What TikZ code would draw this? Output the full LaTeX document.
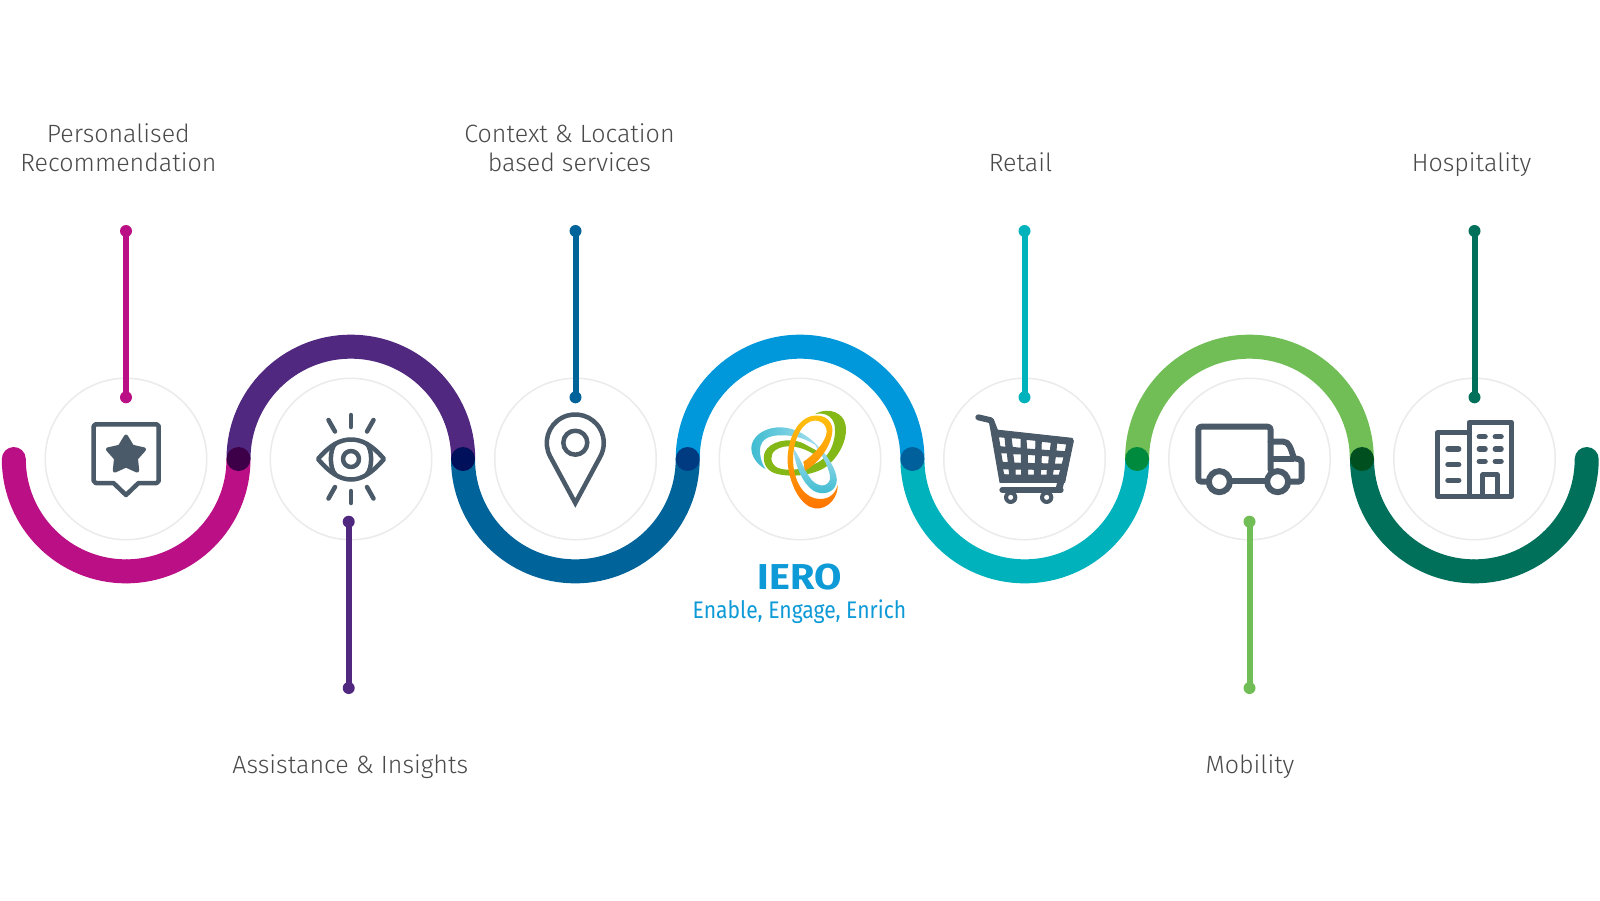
\documentclass[tikz,border=0pt]{standalone}
\usepackage{graphicx}
\usepackage{fontspec}
\setmainfont{Fira Sans Light}
\newfontfamily\regfont{Fira Sans}
\definecolor{cmag}{HTML}{BA0F85}
\definecolor{cpur}{HTML}{50287F}
\definecolor{cblu}{HTML}{00649B}
\definecolor{clbl}{HTML}{0098DA}
\definecolor{ctea}{HTML}{00B2BC}
\definecolor{cgrn}{HTML}{70BE55}
\definecolor{cdgr}{HTML}{00705A}
\definecolor{jone}{HTML}{3D0048}
\definecolor{jtwo}{HTML}{00105A}
\definecolor{jthr}{HTML}{003A80}
\definecolor{jfou}{HTML}{00609C}
\definecolor{jfiv}{HTML}{008A3E}
\definecolor{jsix}{HTML}{00501F}
\definecolor{icon}{HTML}{4B5A68}
\definecolor{ring}{HTML}{EBEBEB}
\definecolor{txt}{HTML}{4A4A4A}
\definecolor{ierob}{HTML}{0E9AD7}
\definecolor{lcya}{HTML}{3DBBD0}
\definecolor{lpal}{HTML}{A8E0F0}
\definecolor{lgrn}{HTML}{84B817}
\definecolor{lyel}{HTML}{FFC20E}
\definecolor{lorg}{HTML}{FF7300}
\tikzset{
  band/.style={line width=24pt,draw=#1},
  hub/.style={circle,draw=ring,line width=1.5pt,minimum size=161.5pt,inner sep=0pt,fill=white},
  joint/.style={circle,fill=#1,minimum size=24pt,inner sep=0pt},
  tipdot/.style={circle,fill=#1,minimum size=12pt,inner sep=0pt},
  stem/.style={line width=6pt,draw=#1},
  lab/.style={text=txt,font=\fontsize{25pt}{29pt}\selectfont,align=center,inner sep=0pt,anchor=base},
  ico/.style={draw=icon,line width=4.5pt,line cap=round,line join=round},
}
\begin{document}
\begin{tikzpicture}[x=1pt,y=-1pt]
\useasboundingbox (0,0) rectangle (1600,900);
\fill[white] (0,0) rectangle (1600,900);
% hubs
\node[hub] (h1) at (126,459) {};
\node[hub] (h2) at (351,459) {};
\node[hub] (h3) at (575.5,459) {};
\node[hub] (h4) at (800,459) {};
\node[hub] (h5) at (1024.5,459) {};
\node[hub] (h6) at (1249.5,459) {};
\node[hub] (h7) at (1474.5,459) {};
% bands
\draw[band=cmag,line cap=round] (13.8,459) arc[start angle=180,end angle=90,radius=112.35];
\draw[band=cmag] (126.15,571.35) arc[start angle=90,end angle=0,radius=112.35];
\draw[band=cpur] (238.5,459) arc[start angle=180,end angle=360,radius=112.35];
\draw[band=cblu] (463,459) arc[start angle=180,end angle=0,radius=112.35];
\draw[band=clbl] (687.7,459) arc[start angle=180,end angle=360,radius=112.35];
\draw[band=ctea] (912.4,459) arc[start angle=180,end angle=0,radius=112.35];
\draw[band=cgrn] (1137.1,459) arc[start angle=180,end angle=360,radius=112.35];
\draw[band=cdgr] (1362,459) arc[start angle=180,end angle=90,radius=112.35];
\draw[band=cdgr,line cap=round] (1474.35,571.35) arc[start angle=90,end angle=0,radius=112.35];
% joints
\node[joint=jone] (j1) at (238.5,459) {};
\node[joint=jtwo] (j2) at (463,459) {};
\node[joint=jthr] (j3) at (687.7,459) {};
\node[joint=jfou] (j4) at (912.4,459) {};
\node[joint=jfiv] (j5) at (1137.1,459) {};
\node[joint=jsix] (j6) at (1362,459) {};
% stems
\node[tipdot=cmag] (s1a) at (126,231) {};
\node[tipdot=cmag] (s1b) at (126,397.3) {};
\draw[stem=cmag] (s1a.center) -- (s1b.center);
\node[tipdot=cpur] (s2a) at (348.7,521.7) {};
\node[tipdot=cpur] (s2b) at (348.7,688) {};
\draw[stem=cpur] (s2a.center) -- (s2b.center);
\node[tipdot=cblu] (s3a) at (575.5,231) {};
\node[tipdot=cblu] (s3b) at (575.5,397.3) {};
\draw[stem=cblu] (s3a.center) -- (s3b.center);
\node[tipdot=ctea] (s5a) at (1024.5,231) {};
\node[tipdot=ctea] (s5b) at (1024.5,397.3) {};
\draw[stem=ctea] (s5a.center) -- (s5b.center);
\node[tipdot=cgrn] (s6a) at (1249.5,521.7) {};
\node[tipdot=cgrn] (s6b) at (1249.5,688) {};
\draw[stem=cgrn] (s6a.center) -- (s6b.center);
\node[tipdot=cdgr] (s7a) at (1474.5,231) {};
\node[tipdot=cdgr] (s7b) at (1474.5,397.3) {};
\draw[stem=cdgr] (s7a.center) -- (s7b.center);
% labels
\node[lab] (l1) at (118.4,171.7) {Personalised\\Recommendation};
\node[lab] (l2) at (350.3,773.3) {Assistance \& Insights};
\node[lab] (l3) at (569.5,171.7) {Context \& Location\\based services};
\node[lab] (l5) at (1020.5,171.7) {Retail};
\node[lab] (l6) at (1250,773.3) {Mobility};
\node[lab] (l7) at (1471.5,171.7) {Hospitality};
\node[inner sep=0pt,anchor=base,text=ierob] (ti) at (799.5,589.3) {\scalebox{1.1}[1]{\regfont\bfseries\fontsize{36pt}{40pt}\selectfont IERO}};
\node[inner sep=0pt,anchor=base,text=ierob] (ts) at (799.5,618) {\scalebox{0.88}[1]{\regfont\fontsize{24pt}{28pt}\selectfont Enable, Engage, Enrich}};
% chat-star icon
\draw[ico] (93.7,426) -- (93.7,481) -- (95.7,483) -- (113.5,483) -- (126,495) -- (138.5,483) -- (156.7,483) -- (158.7,481) -- (158.7,426) -- (156.7,424.3) -- (95.7,424.3) -- cycle;
\filldraw[icon,line width=4pt,line join=round] (126,436.5) -- (132.2,446.7) -- (144.1,449.4) -- (136,458.4) -- (137.2,470.6) -- (126,465.5) -- (114.8,470.6) -- (116,458.4) -- (107.9,449.4) -- (119.8,446.7) -- cycle;
% eye icon
\draw[ico] (318,459) .. controls (330,445) and (340,439.5) .. (351,439.5) .. controls (362,439.5) and (372,445) .. (384,459) .. controls (372,473) and (362,479.5) .. (351,479.5) .. controls (340,479.5) and (330,473) .. (318,459) -- cycle;
\draw[ico] (351,459) circle[radius=8];
\draw[ico] (335,444) .. controls (329.5,450) and (329.5,468) .. (335,474);
\draw[ico] (367,444) .. controls (372.5,450) and (372.5,468) .. (367,474);
\draw[ico] (351,415) -- (351,427);
\draw[ico] (351,491) -- (351,503);
\draw[ico] (328.5,420) -- (335,431.5);
\draw[ico] (373.5,420) -- (367,431.5);
\draw[ico] (335,487) -- (328.5,498.5);
\draw[ico] (367,487) -- (373.5,498.5);
% pin icon
\draw[ico,line join=miter] (575.3,503) -- (550.2,456.5) arc[start angle=151.6,end angle=388.4,radius=28.5] -- cycle;
\draw[ico] (575.3,442.7) circle[radius=12];
% logo
\begin{scope}[shift={(745,400)},x=0.3333pt,y=-0.3333pt]
\shade[left color=lcya,right color=lpal]
 (62,208) .. controls (30,190) and (15,160) .. (20,135) .. controls (28,100) and (70,80) .. (110,82) .. controls (150,84) and (190,105) .. (225,145) .. controls (190,118) and (150,104) .. (105,106) .. controls (70,106) and (50,120) .. (46,140) .. controls (42,165) and (50,190) .. (62,208) -- cycle;
\fill[lgrn]
 (210,42) .. controls (240,25) and (280,30) .. (297,60) .. controls (315,100) and (290,160) .. (250,195) .. controls (215,225) and (140,235) .. (90,220) .. controls (60,210) and (50,180) .. (60,155) .. controls (75,125) and (130,110) .. (175,130) -- (215,152) -- (210,165) .. controls (170,138) and (120,130) .. (92,150) .. controls (74,162) and (74,190) .. (97,203) .. controls (140,220) and (210,200) .. (238,173) .. controls (265,150) and (275,100) .. (268,72) .. controls (260,45) and (235,37) .. (210,42) -- cycle;
\shade[top color=lpal,bottom color=lcya]
 (225,145) .. controls (255,175) and (282,225) .. (274,250) .. controls (267,280) and (230,287) .. (205,272) .. controls (175,252) and (150,200) .. (145,145) .. controls (165,170) and (177,212) .. (200,240) .. controls (220,262) and (248,262) .. (255,238) .. controls (258,215) and (235,170) .. (210,135) -- cycle;
\shade[top color=lyel,bottom color=lorg]
 (278,255) .. controls (280,290) and (250,330) .. (210,325) .. controls (170,320) and (135,260) .. (128,190) .. controls (125,130) and (150,60) .. (200,48) .. controls (240,40) and (265,65) .. (262,95) .. controls (258,140) and (220,190) .. (180,212) -- (175,185) .. controls (200,170) and (245,125) .. (245,95) .. controls (245,70) and (220,55) .. (195,65) .. controls (160,80) and (140,140) .. (145,195) .. controls (150,250) and (180,297) .. (225,297) .. controls (250,297) and (270,285) .. (278,255) -- cycle;
\end{scope}
% cart icon
\begin{scope}[shift={(970,405)},x=0.3333pt,y=-0.3333pt]
\draw[icon,line width=6pt,line cap=round,line join=round] (25,37) -- (63,46) -- (78,85);
\draw[icon,line width=6pt,line cap=round,line join=round] (97,255) -- (272,255);
\filldraw[icon,even odd rule,line width=1pt,line join=round]
 (60,60) -- (78,75) -- (306,100) -- (310,108) -- (284,232) -- (90,232) -- cycle
 (85,95) -- (105,97) -- (108,127) -- (90,125) -- cycle
 (123,98) -- (153,100) -- (153,130) -- (127,127) -- cycle
 (168,103) -- (198,106) -- (197,134) -- (170,132) -- cycle
 (214,109) -- (244,112) -- (241,137) -- (213,135) -- cycle
 (260,114) -- (290,117) -- (286,140) -- (258,138) -- cycle
 (92,143) -- (112,144) -- (115,173) -- (97,172) -- cycle
 (128,146) -- (154,147) -- (154,175) -- (132,174) -- cycle
 (172,148) -- (197,150) -- (196,176) -- (172,175) -- cycle
 (214,151) -- (238,153) -- (236,177) -- (213,176) -- cycle
 (256,155) -- (282,156) -- (277,177) -- (253,177) -- cycle
 (98,191) -- (117,192) -- (119,210) -- (101,209) -- cycle
 (135,192) -- (155,192) -- (155,210) -- (135,210) -- cycle
 (173,192) -- (193,193) -- (193,210) -- (173,210) -- cycle
 (212,193) -- (232,193) -- (231,210) -- (211,210) -- cycle
 (250,193) -- (272,193) -- (268,210) -- (247,210) -- cycle;
\fill[icon] (284,226) -- (263,226) -- (257,250) -- (275,262) -- cycle;
\fill[icon,even odd rule] (122,277) circle[radius=20] (122,277) circle[radius=8];
\fill[icon,even odd rule] (230,277) circle[radius=20] (230,277) circle[radius=8];
\end{scope}
% truck icon
\begin{scope}[shift={(950,390)},x=0.3333pt,y=-0.3333pt]
\draw[icon,line width=6pt,line join=round,line cap=round] (772,275) -- (755,275) .. controls (748,275) and (745,272) .. (745,265) -- (745,120) .. controls (745,113) and (748,110) .. (755,110) -- (952,110) .. controls (959,110) and (962,113) .. (962,120) -- (962,240);
\draw[icon,line width=6pt,line join=round,line cap=round] (842,272) -- (950,272);
\draw[icon,line width=6pt,line join=round,line cap=round] (962,155) -- (1000,155) .. controls (1018,155) and (1022,175) .. (1032,205) -- (1045,207) .. controls (1052,208) and (1055,212) .. (1055,220) -- (1055,265) .. controls (1055,272) and (1052,275) .. (1045,275) -- (1018,275);
\draw[icon,line width=6pt] (962,207) -- (1032,207);
\draw[icon,line width=6pt] (808,275) circle[radius=31.5];
\draw[icon,line width=6pt] (983,275) circle[radius=31.5];
\end{scope}
% building icon
\begin{scope}[shift={(1380,380)},x=0.3333pt,y=-0.3333pt]
\draw[icon,line width=5pt,line join=round] (267,349) -- (267,127) -- (394,127) -- (394,349) -- (172,349) -- (172,158) -- (267,158);
\draw[icon,line width=5pt,line join=round] (308,349) -- (308,285) -- (352,285) -- (352,349);
\draw[icon,line width=5.5pt,line cap=round] (204,207) -- (236,207) (204,254) -- (236,254) (204,301) -- (236,301);
\draw[icon,line width=5.5pt,line cap=round] (298,170) -- (315,170) (346,170) -- (363,170) (298,207) -- (315,207) (346,207) -- (363,207) (298,244) -- (315,244) (346,244) -- (363,244);
\end{scope}
\end{tikzpicture}
\end{document}
